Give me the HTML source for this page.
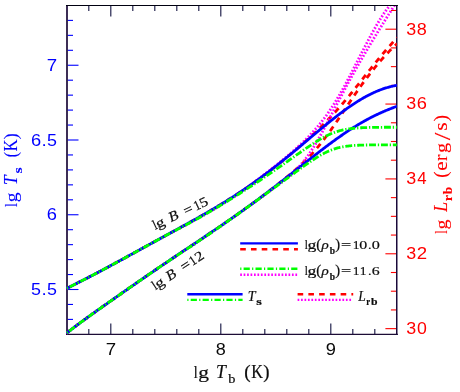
<!DOCTYPE html>
<html><head><meta charset="utf-8"><title>chart</title>
<style>html,body{margin:0;padding:0;background:#fff;}body{width:460px;height:392px;overflow:hidden;position:relative;font-family:"Liberation Sans",sans-serif;}</style></head>
<body>
<svg width="460" height="392" viewBox="0 0 460 392" style="position:absolute;left:0;top:0;will-change:transform">
<defs><clipPath id="c"><rect x="66.10" y="6.00" width="330.75" height="328.85"/></clipPath></defs>
<g fill="none" stroke-width="2.4">
<path d="M240.2,243.35 H297.9" stroke="#0000ff"/>
<path d="M240.2,249.2 H297.9" stroke="#ff0000" stroke-dasharray="5.6 5.16"/>
<path d="M240.2,268.8 H297.9" stroke="#00ff00" stroke-dasharray="1.2 2.2 6.2 2.3" />
<path d="M240.2,274.7 H297.9" stroke="#ff00ff" stroke-dasharray="1.7 1.75"/>
<path d="M187.3,294.2 H242.6" stroke="#0000ff"/>
<path d="M187.3,299.9 H242.6" stroke="#00ff00" stroke-dasharray="1.2 2.2 6.2 2.3"/>
<path d="M297.6,294.2 H353.2" stroke="#ff0000" stroke-dasharray="5.6 5.16"/>
<path d="M297.6,299.9 H351.5" stroke="#ff00ff" stroke-dasharray="1.7 1.75"/>
</g>
<g stroke="#1c1c48" stroke-width="1.15" fill="none">
<path d="M88.80,334.45 v-5.5"/><path d="M88.80,5.5 v5.5"/>
<path d="M110.80,334.45 v-11"/><path d="M110.80,5.5 v11"/>
<path d="M132.80,334.45 v-5.5"/><path d="M132.80,5.5 v5.5"/>
<path d="M154.80,334.45 v-5.5"/><path d="M154.80,5.5 v5.5"/>
<path d="M176.80,334.45 v-5.5"/><path d="M176.80,5.5 v5.5"/>
<path d="M198.80,334.45 v-5.5"/><path d="M198.80,5.5 v5.5"/>
<path d="M220.80,334.45 v-11"/><path d="M220.80,5.5 v11"/>
<path d="M242.80,334.45 v-5.5"/><path d="M242.80,5.5 v5.5"/>
<path d="M264.80,334.45 v-5.5"/><path d="M264.80,5.5 v5.5"/>
<path d="M286.80,334.45 v-5.5"/><path d="M286.80,5.5 v5.5"/>
<path d="M308.80,334.45 v-5.5"/><path d="M308.80,5.5 v5.5"/>
<path d="M330.80,334.45 v-11"/><path d="M330.80,5.5 v11"/>
<path d="M352.80,334.45 v-5.5"/><path d="M352.80,5.5 v5.5"/>
<path d="M374.80,334.45 v-5.5"/><path d="M374.80,5.5 v5.5"/>
</g>
<g stroke="#0000ff" stroke-width="1.1" fill="none">
<path d="M67.0,319.40 h6"/>
<path d="M67.0,304.45 h6"/>
<path d="M67.0,289.50 h11.5"/>
<path d="M67.0,274.55 h6"/>
<path d="M67.0,259.60 h6"/>
<path d="M67.0,244.65 h6"/>
<path d="M67.0,229.70 h6"/>
<path d="M67.0,214.75 h11.5"/>
<path d="M67.0,199.80 h6"/>
<path d="M67.0,184.85 h6"/>
<path d="M67.0,169.90 h6"/>
<path d="M67.0,154.95 h6"/>
<path d="M67.0,140.00 h11.5"/>
<path d="M67.0,125.05 h6"/>
<path d="M67.0,110.10 h6"/>
<path d="M67.0,95.15 h6"/>
<path d="M67.0,80.20 h6"/>
<path d="M67.0,65.25 h11.5"/>
<path d="M67.0,50.30 h6"/>
<path d="M67.0,35.35 h6"/>
<path d="M67.0,20.40 h6"/>
</g>
<g stroke="#ff0000" stroke-width="1.1" fill="none">
<path d="M396.9,328.64 h-11.5"/>
<path d="M396.9,309.93 h-6"/>
<path d="M396.9,291.21 h-6"/>
<path d="M396.9,272.50 h-6"/>
<path d="M396.9,253.78 h-11.5"/>
<path d="M396.9,235.06 h-6"/>
<path d="M396.9,216.35 h-6"/>
<path d="M396.9,197.63 h-6"/>
<path d="M396.9,178.92 h-11.5"/>
<path d="M396.9,160.20 h-6"/>
<path d="M396.9,141.49 h-6"/>
<path d="M396.9,122.78 h-6"/>
<path d="M396.9,104.06 h-11.5"/>
<path d="M396.9,85.34 h-6"/>
<path d="M396.9,66.63 h-6"/>
<path d="M396.9,47.91 h-6"/>
<path d="M396.9,29.20 h-11.5"/>
<path d="M396.9,10.48 h-6"/>
</g>
<path d="M67.0,5.0 V335.05" stroke="#33234d" stroke-width="1.9" fill="none"/>
<path d="M396.75,5.0 V335.05" stroke="#1a0a3a" stroke-width="1.5" fill="none"/>
<path d="M66.0,5.5 H397.9" stroke="#000010" stroke-width="1.1" fill="none"/>
<path d="M66.0,334.45 H397.9" stroke="#1c0c36" stroke-width="1.25" fill="none"/>
<g clip-path="url(#c)" fill="none" stroke-width="2.80">
<path d="M66.40,288.52 L67.15,288.14 L67.91,287.77 L68.66,287.39 L69.41,287.02 L70.17,286.64 L70.92,286.27 L71.67,285.89 L72.43,285.52 L73.18,285.14 L73.94,284.77 L74.69,284.39 L75.44,284.01 L76.20,283.63 L76.95,283.25 L77.70,282.87 L78.46,282.49 L79.21,282.11 L79.96,281.73 L80.72,281.35 L81.47,280.97 L82.22,280.59 L82.98,280.20 L83.73,279.82 L84.48,279.43 L85.24,279.05 L85.99,278.66 L86.75,278.27 L87.50,277.89 L88.25,277.50 L89.01,277.11 L89.76,276.72 L90.51,276.33 L91.27,275.94 L92.02,275.54 L92.77,275.15 L93.53,274.76 L94.28,274.36 L95.03,273.97 L95.79,273.57 L96.54,273.18 L97.29,272.78 L98.05,272.38 L98.80,271.99 L99.56,271.59 L100.31,271.19 L101.06,270.79 L101.82,270.39 L102.57,269.99 L103.32,269.59 L104.08,269.18 L104.83,268.78 L105.58,268.38 L106.34,267.97 L107.09,267.57 L107.84,267.16 L108.60,266.76 L109.35,266.35 L110.10,265.95 L110.86,265.54 L111.61,265.13 L112.37,264.73 L113.12,264.32 L113.87,263.91 L114.63,263.50 L115.38,263.09 L116.13,262.68 L116.89,262.27 L117.64,261.86 L118.39,261.45 L119.15,261.04 L119.90,260.63 L120.65,260.22 L121.41,259.81 L122.16,259.40 L122.91,258.99 L123.67,258.58 L124.42,258.16 L125.18,257.75 L125.93,257.34 L126.68,256.93 L127.44,256.51 L128.19,256.10 L128.94,255.69 L129.70,255.27 L130.45,254.86 L131.20,254.45 L131.96,254.03 L132.71,253.62 L133.46,253.21 L134.22,252.79 L134.97,252.38 L135.72,251.97 L136.48,251.55 L137.23,251.14 L137.99,250.73 L138.74,250.31 L139.49,249.90 L140.25,249.49 L141.00,249.07 L141.75,248.66 L142.51,248.25 L143.26,247.83 L144.01,247.42 L144.77,247.01 L145.52,246.60 L146.27,246.18 L147.03,245.77 L147.78,245.36 L148.53,244.94 L149.29,244.53 L150.04,244.12 L150.80,243.71 L151.55,243.29 L152.30,242.88 L153.06,242.47 L153.81,242.06 L154.56,241.65 L155.32,241.23 L156.07,240.82 L156.82,240.41 L157.58,240.00 L158.33,239.59 L159.08,239.18 L159.84,238.76 L160.59,238.35 L161.34,237.94 L162.10,237.53 L162.85,237.12 L163.61,236.71 L164.36,236.30 L165.11,235.89 L165.87,235.47 L166.62,235.06 L167.37,234.65 L168.13,234.24 L168.88,233.83 L169.63,233.42 L170.39,233.01 L171.14,232.59 L171.89,232.18 L172.65,231.77 L173.40,231.36 L174.15,230.95 L174.91,230.54 L175.66,230.12 L176.42,229.71 L177.17,229.30 L177.92,228.89 L178.68,228.47 L179.43,228.06 L180.18,227.65 L180.94,227.23 L181.69,226.82 L182.44,226.40 L183.20,225.99 L183.95,225.57 L184.70,225.16 L185.46,224.74 L186.21,224.33 L186.96,223.91 L187.72,223.49 L188.47,223.08 L189.23,222.66 L189.98,222.24 L190.73,221.82 L191.49,221.40 L192.24,220.98 L192.99,220.56 L193.75,220.14 L194.50,219.72 L195.25,219.30 L196.01,218.88 L196.76,218.45 L197.51,218.03 L198.27,217.60 L199.02,217.18 L199.77,216.75 L200.53,216.32 L201.28,215.89 L202.04,215.47 L202.79,215.04 L203.54,214.61 L204.30,214.17 L205.05,213.74 L205.80,213.31 L206.56,212.87 L207.31,212.44 L208.06,212.00 L208.82,211.56 L209.57,211.12 L210.32,210.68 L211.08,210.24 L211.83,209.80 L212.58,209.36 L213.34,208.91 L214.09,208.47 L214.85,208.02 L215.60,207.57 L216.35,207.12 L217.11,206.67 L217.86,206.22 L218.61,205.77 L219.37,205.31 L220.12,204.86 L220.87,204.40 L221.63,203.94 L222.38,203.48 L223.13,203.02 L223.89,202.56 L224.64,202.09 L225.39,201.62 L226.15,201.16 L226.90,200.69 L227.66,200.22 L228.41,199.74 L229.16,199.27 L229.92,198.79 L230.67,198.31 L231.42,197.83 L232.18,197.35 L232.93,196.87 L233.68,196.39 L234.44,195.90 L235.19,195.41 L235.94,194.92 L236.70,194.43 L237.45,193.93 L238.21,193.44 L238.96,192.94 L239.71,192.44 L240.47,191.94 L241.22,191.44 L241.97,190.93 L242.73,190.43 L243.48,189.92 L244.23,189.41 L244.99,188.89 L245.74,188.38 L246.49,187.86 L247.25,187.34 L248.00,186.82 L248.75,186.30 L249.51,185.78 L250.26,185.25 L251.02,184.72 L251.77,184.19 L252.52,183.66 L253.28,183.12 L254.03,182.58 L254.78,182.05 L255.54,181.51 L256.29,180.96 L257.04,180.42 L257.80,179.87 L258.55,179.32 L259.30,178.77 L260.06,178.22 L260.81,177.66 L261.56,177.10 L262.32,176.55 L263.07,175.98 L263.83,175.42 L264.58,174.86 L265.33,174.29 L266.09,173.72 L266.84,173.15 L267.59,172.57 L268.35,172.00 L269.10,171.42 L269.85,170.84 L270.61,170.26 L271.36,169.68 L272.11,169.09 L272.87,168.51 L273.62,167.92 L274.37,167.33 L275.13,166.73 L275.88,166.14 L276.64,165.54 L277.39,164.94 L278.14,164.34 L278.90,163.74 L279.65,163.13 L280.40,162.53 L281.16,161.92 L281.91,161.31 L282.66,160.70 L283.42,160.08 L284.17,159.47 L284.92,158.85 L285.68,158.23 L286.43,157.61 L287.18,156.99 L287.94,156.36 L288.69,155.74 L289.45,155.11 L290.20,154.48 L290.95,153.85 L291.71,153.21 L292.46,152.58 L293.21,151.94 L293.97,151.30 L294.72,150.66 L295.47,150.01 L296.23,149.37 L296.98,148.72 L297.73,148.07 L298.49,147.42 L299.24,146.77 L299.99,146.11 L300.75,145.45 L301.50,144.79 L302.26,144.13 L303.01,143.47 L303.76,142.80 L304.52,142.13 L305.27,141.46 L306.02,140.79 L306.78,140.11 L307.53,139.43 L308.28,138.75 L309.04,138.07 L309.79,137.38 L310.54,136.69 L311.30,136.00 L312.05,135.31 L312.80,134.61 L313.56,133.91 L314.31,133.20 L315.07,132.50 L315.82,131.78 L316.57,131.07 L317.33,130.35 L318.08,129.63 L318.83,128.90 L319.59,128.18 L320.34,127.44 L321.09,126.71 L321.85,125.96 L322.60,125.22 L323.35,124.47 L324.11,123.71 L324.86,122.96 L325.61,122.19 L326.37,121.42 L327.12,120.65 L327.88,119.87 L328.63,119.09 L329.38,118.30 L330.14,117.51 L330.89,116.71 L331.64,115.91 L332.40,115.10 L333.15,114.29 L333.90,113.47 L334.66,112.65 L335.41,111.82 L336.16,110.98 L336.92,110.14 L337.67,109.30 L338.42,108.45 L339.18,107.59 L339.93,106.73 L340.69,105.86 L341.44,104.99 L342.19,104.12 L342.95,103.23 L343.70,102.35 L344.45,101.46 L345.21,100.56 L345.96,99.66 L346.71,98.76 L347.47,97.85 L348.22,96.94 L348.97,96.02 L349.73,95.10 L350.48,94.17 L351.23,93.25 L351.99,92.31 L352.74,91.38 L353.50,90.44 L354.25,89.50 L355.00,88.56 L355.76,87.61 L356.51,86.67 L357.26,85.72 L358.02,84.77 L358.77,83.82 L359.52,82.86 L360.28,81.91 L361.03,80.95 L361.78,80.00 L362.54,79.04 L363.29,78.08 L364.04,77.13 L364.80,76.17 L365.55,75.22 L366.31,74.26 L367.06,73.31 L367.81,72.35 L368.57,71.40 L369.32,70.45 L370.07,69.50 L370.83,68.55 L371.58,67.61 L372.33,66.66 L373.09,65.72 L373.84,64.78 L374.59,63.85 L375.35,62.91 L376.10,61.98 L376.85,61.06 L377.61,60.13 L378.36,59.21 L379.12,58.30 L379.87,57.39 L380.62,56.48 L381.38,55.57 L382.13,54.67 L382.88,53.77 L383.64,52.88 L384.39,51.99 L385.14,51.11 L385.90,50.23 L386.65,49.36 L387.40,48.49 L388.16,47.63 L388.91,46.77 L389.66,45.92 L390.42,45.07 L391.17,44.23 L391.93,43.39 L392.68,42.56 L393.43,41.73 L394.19,40.91 L394.94,40.10 L395.69,39.29 L396.45,38.49 L397.20,37.69" stroke="#ff0000" stroke-dasharray="5.6 5.16"/>
<path d="M66.40,333.34 L67.15,332.74 L67.91,332.14 L68.66,331.55 L69.41,330.96 L70.17,330.37 L70.92,329.79 L71.67,329.21 L72.43,328.63 L73.18,328.05 L73.94,327.48 L74.69,326.91 L75.44,326.34 L76.20,325.77 L76.95,325.21 L77.70,324.64 L78.46,324.08 L79.21,323.52 L79.96,322.96 L80.72,322.41 L81.47,321.85 L82.22,321.30 L82.98,320.75 L83.73,320.20 L84.48,319.65 L85.24,319.10 L85.99,318.55 L86.75,318.00 L87.50,317.46 L88.25,316.91 L89.01,316.37 L89.76,315.83 L90.51,315.29 L91.27,314.75 L92.02,314.21 L92.77,313.67 L93.53,313.13 L94.28,312.59 L95.03,312.06 L95.79,311.52 L96.54,310.98 L97.29,310.45 L98.05,309.91 L98.80,309.38 L99.56,308.84 L100.31,308.31 L101.06,307.78 L101.82,307.24 L102.57,306.71 L103.32,306.18 L104.08,305.65 L104.83,305.12 L105.58,304.58 L106.34,304.05 L107.09,303.52 L107.84,302.99 L108.60,302.46 L109.35,301.93 L110.10,301.40 L110.86,300.87 L111.61,300.34 L112.37,299.82 L113.12,299.29 L113.87,298.76 L114.63,298.23 L115.38,297.70 L116.13,297.17 L116.89,296.65 L117.64,296.12 L118.39,295.59 L119.15,295.06 L119.90,294.54 L120.65,294.01 L121.41,293.48 L122.16,292.95 L122.91,292.43 L123.67,291.90 L124.42,291.38 L125.18,290.85 L125.93,290.32 L126.68,289.80 L127.44,289.27 L128.19,288.75 L128.94,288.22 L129.70,287.70 L130.45,287.17 L131.20,286.65 L131.96,286.13 L132.71,285.60 L133.46,285.08 L134.22,284.55 L134.97,284.03 L135.72,283.51 L136.48,282.99 L137.23,282.46 L137.99,281.94 L138.74,281.42 L139.49,280.90 L140.25,280.38 L141.00,279.86 L141.75,279.33 L142.51,278.81 L143.26,278.29 L144.01,277.77 L144.77,277.25 L145.52,276.73 L146.27,276.22 L147.03,275.70 L147.78,275.18 L148.53,274.66 L149.29,274.14 L150.04,273.62 L150.80,273.11 L151.55,272.59 L152.30,272.07 L153.06,271.56 L153.81,271.04 L154.56,270.53 L155.32,270.01 L156.07,269.50 L156.82,268.98 L157.58,268.47 L158.33,267.95 L159.08,267.44 L159.84,266.93 L160.59,266.41 L161.34,265.90 L162.10,265.39 L162.85,264.88 L163.61,264.37 L164.36,263.85 L165.11,263.34 L165.87,262.83 L166.62,262.32 L167.37,261.81 L168.13,261.30 L168.88,260.79 L169.63,260.28 L170.39,259.78 L171.14,259.27 L171.89,258.76 L172.65,258.25 L173.40,257.74 L174.15,257.24 L174.91,256.73 L175.66,256.22 L176.42,255.71 L177.17,255.21 L177.92,254.70 L178.68,254.20 L179.43,253.69 L180.18,253.18 L180.94,252.68 L181.69,252.17 L182.44,251.67 L183.20,251.16 L183.95,250.66 L184.70,250.15 L185.46,249.65 L186.21,249.14 L186.96,248.64 L187.72,248.14 L188.47,247.63 L189.23,247.13 L189.98,246.62 L190.73,246.12 L191.49,245.61 L192.24,245.11 L192.99,244.61 L193.75,244.10 L194.50,243.60 L195.25,243.09 L196.01,242.59 L196.76,242.09 L197.51,241.58 L198.27,241.08 L199.02,240.57 L199.77,240.07 L200.53,239.56 L201.28,239.06 L202.04,238.55 L202.79,238.05 L203.54,237.54 L204.30,237.04 L205.05,236.53 L205.80,236.02 L206.56,235.52 L207.31,235.01 L208.06,234.50 L208.82,233.99 L209.57,233.49 L210.32,232.98 L211.08,232.47 L211.83,231.96 L212.58,231.45 L213.34,230.94 L214.09,230.43 L214.85,229.92 L215.60,229.41 L216.35,228.90 L217.11,228.39 L217.86,227.87 L218.61,227.36 L219.37,226.84 L220.12,226.33 L220.87,225.82 L221.63,225.30 L222.38,224.78 L223.13,224.27 L223.89,223.75 L224.64,223.23 L225.39,222.71 L226.15,222.19 L226.90,221.67 L227.66,221.15 L228.41,220.63 L229.16,220.11 L229.92,219.58 L230.67,219.06 L231.42,218.53 L232.18,218.01 L232.93,217.48 L233.68,216.95 L234.44,216.43 L235.19,215.90 L235.94,215.37 L236.70,214.84 L237.45,214.30 L238.21,213.77 L238.96,213.24 L239.71,212.70 L240.47,212.17 L241.22,211.63 L241.97,211.09 L242.73,210.55 L243.48,210.02 L244.23,209.47 L244.99,208.93 L245.74,208.39 L246.49,207.85 L247.25,207.30 L248.00,206.76 L248.75,206.21 L249.51,205.66 L250.26,205.11 L251.02,204.56 L251.77,204.01 L252.52,203.46 L253.28,202.91 L254.03,202.36 L254.78,201.80 L255.54,201.24 L256.29,200.69 L257.04,200.13 L257.80,199.57 L258.55,199.01 L259.30,198.45 L260.06,197.88 L260.81,197.32 L261.56,196.75 L262.32,196.19 L263.07,195.62 L263.83,195.05 L264.58,194.48 L265.33,193.91 L266.09,193.34 L266.84,192.76 L267.59,192.19 L268.35,191.61 L269.10,191.04 L269.85,190.46 L270.61,189.88 L271.36,189.30 L272.11,188.71 L272.87,188.13 L273.62,187.54 L274.37,186.96 L275.13,186.37 L275.88,185.78 L276.64,185.19 L277.39,184.60 L278.14,184.00 L278.90,183.41 L279.65,182.81 L280.40,182.21 L281.16,181.61 L281.91,181.00 L282.66,180.40 L283.42,179.79 L284.17,179.18 L284.92,178.57 L285.68,177.96 L286.43,177.34 L287.18,176.72 L287.94,176.10 L288.69,175.48 L289.45,174.85 L290.20,174.22 L290.95,173.58 L291.71,172.95 L292.46,172.31 L293.21,171.66 L293.97,171.01 L294.72,170.36 L295.47,169.71 L296.23,169.05 L296.98,168.38 L297.73,167.71 L298.49,167.03 L299.24,166.35 L299.99,165.67 L300.75,164.97 L301.50,164.27 L302.26,163.57 L303.01,162.86 L303.76,162.14 L304.52,161.41 L305.27,160.68 L306.02,159.93 L306.78,159.18 L307.53,158.43 L308.28,157.66 L309.04,156.88 L309.79,156.10 L310.54,155.30 L311.30,154.50 L312.05,153.69 L312.80,152.86 L313.56,152.03 L314.31,151.18 L315.07,150.33 L315.82,149.46 L316.57,148.59 L317.33,147.70 L318.08,146.80 L318.83,145.89 L319.59,144.97 L320.34,144.04 L321.09,143.10 L321.85,142.15 L322.60,141.19 L323.35,140.21 L324.11,139.23 L324.86,138.24 L325.61,137.23 L326.37,136.22 L327.12,135.20 L327.88,134.17 L328.63,133.13 L329.38,132.08 L330.14,131.02 L330.89,129.96 L331.64,128.89 L332.40,127.81 L333.15,126.73 L333.90,125.64 L334.66,124.55 L335.41,123.44 L336.16,122.34 L336.92,121.23 L337.67,120.12 L338.42,119.00 L339.18,117.88 L339.93,116.76 L340.69,115.64 L341.44,114.51 L342.19,113.38 L342.95,112.26 L343.70,111.13 L344.45,110.00 L345.21,108.87 L345.96,107.74 L346.71,106.62 L347.47,105.49 L348.22,104.37 L348.97,103.25 L349.73,102.13 L350.48,101.01 L351.23,99.89 L351.99,98.78 L352.74,97.68 L353.50,96.57 L354.25,95.47 L355.00,94.37 L355.76,93.28 L356.51,92.20 L357.26,91.11 L358.02,90.04 L358.77,88.96 L359.52,87.90 L360.28,86.83 L361.03,85.78 L361.78,84.73 L362.54,83.68 L363.29,82.64 L364.04,81.61 L364.80,80.59 L365.55,79.57 L366.31,78.55 L367.06,77.55 L367.81,76.55 L368.57,75.56 L369.32,74.57 L370.07,73.59 L370.83,72.62 L371.58,71.66 L372.33,70.70 L373.09,69.75 L373.84,68.81 L374.59,67.87 L375.35,66.95 L376.10,66.03 L376.85,65.12 L377.61,64.21 L378.36,63.32 L379.12,62.43 L379.87,61.55 L380.62,60.68 L381.38,59.82 L382.13,58.96 L382.88,58.11 L383.64,57.27 L384.39,56.44 L385.14,55.62 L385.90,54.80 L386.65,54.00 L387.40,53.20 L388.16,52.41 L388.91,51.63 L389.66,50.85 L390.42,50.09 L391.17,49.33 L391.93,48.58 L392.68,47.84 L393.43,47.11 L394.19,46.39 L394.94,45.68 L395.69,44.97 L396.45,44.28 L397.20,43.59" stroke="#ff0000" stroke-dasharray="5.6 5.16"/>
<path d="M66.40,288.52 L67.15,288.14 L67.91,287.77 L68.66,287.39 L69.41,287.02 L70.17,286.64 L70.92,286.27 L71.67,285.89 L72.43,285.52 L73.18,285.14 L73.94,284.77 L74.69,284.39 L75.44,284.01 L76.20,283.63 L76.95,283.25 L77.70,282.87 L78.46,282.49 L79.21,282.11 L79.96,281.73 L80.72,281.35 L81.47,280.97 L82.22,280.59 L82.98,280.20 L83.73,279.82 L84.48,279.43 L85.24,279.05 L85.99,278.66 L86.75,278.27 L87.50,277.89 L88.25,277.50 L89.01,277.11 L89.76,276.72 L90.51,276.33 L91.27,275.94 L92.02,275.54 L92.77,275.15 L93.53,274.76 L94.28,274.36 L95.03,273.97 L95.79,273.57 L96.54,273.18 L97.29,272.78 L98.05,272.38 L98.80,271.99 L99.56,271.59 L100.31,271.19 L101.06,270.79 L101.82,270.39 L102.57,269.99 L103.32,269.59 L104.08,269.18 L104.83,268.78 L105.58,268.38 L106.34,267.97 L107.09,267.57 L107.84,267.16 L108.60,266.76 L109.35,266.35 L110.10,265.95 L110.86,265.54 L111.61,265.13 L112.37,264.73 L113.12,264.32 L113.87,263.91 L114.63,263.50 L115.38,263.09 L116.13,262.68 L116.89,262.27 L117.64,261.86 L118.39,261.45 L119.15,261.04 L119.90,260.63 L120.65,260.22 L121.41,259.81 L122.16,259.40 L122.91,258.99 L123.67,258.58 L124.42,258.16 L125.18,257.75 L125.93,257.34 L126.68,256.93 L127.44,256.51 L128.19,256.10 L128.94,255.69 L129.70,255.27 L130.45,254.86 L131.20,254.45 L131.96,254.03 L132.71,253.62 L133.46,253.21 L134.22,252.79 L134.97,252.38 L135.72,251.97 L136.48,251.55 L137.23,251.14 L137.99,250.73 L138.74,250.31 L139.49,249.90 L140.25,249.49 L141.00,249.07 L141.75,248.66 L142.51,248.25 L143.26,247.83 L144.01,247.42 L144.77,247.01 L145.52,246.60 L146.27,246.18 L147.03,245.77 L147.78,245.36 L148.53,244.94 L149.29,244.53 L150.04,244.12 L150.80,243.71 L151.55,243.29 L152.30,242.88 L153.06,242.47 L153.81,242.05 L154.56,241.64 L155.32,241.23 L156.07,240.81 L156.82,240.40 L157.58,239.99 L158.33,239.58 L159.08,239.17 L159.84,238.76 L160.59,238.35 L161.34,237.94 L162.10,237.53 L162.85,237.12 L163.61,236.71 L164.36,236.31 L165.11,235.90 L165.87,235.50 L166.62,235.10 L167.37,234.69 L168.13,234.29 L168.88,233.89 L169.63,233.49 L170.39,233.09 L171.14,232.69 L171.89,232.29 L172.65,231.89 L173.40,231.49 L174.15,231.09 L174.91,230.70 L175.66,230.30 L176.42,229.90 L177.17,229.51 L177.92,229.11 L178.68,228.71 L179.43,228.32 L180.18,227.92 L180.94,227.52 L181.69,227.13 L182.44,226.73 L183.20,226.33 L183.95,225.94 L184.70,225.54 L185.46,225.14 L186.21,224.74 L186.96,224.34 L187.72,223.94 L188.47,223.54 L189.23,223.14 L189.98,222.73 L190.73,222.33 L191.49,221.92 L192.24,221.52 L192.99,221.11 L193.75,220.70 L194.50,220.29 L195.25,219.88 L196.01,219.47 L196.76,219.06 L197.51,218.65 L198.27,218.23 L199.02,217.81 L199.77,217.40 L200.53,216.98 L201.28,216.56 L202.04,216.13 L202.79,215.71 L203.54,215.29 L204.30,214.86 L205.05,214.43 L205.80,214.00 L206.56,213.57 L207.31,213.14 L208.06,212.70 L208.82,212.26 L209.57,211.82 L210.32,211.38 L211.08,210.94 L211.83,210.50 L212.58,210.06 L213.34,209.61 L214.09,209.16 L214.85,208.72 L215.60,208.27 L216.35,207.82 L217.11,207.36 L217.86,206.91 L218.61,206.45 L219.37,206.00 L220.12,205.54 L220.87,205.08 L221.63,204.62 L222.38,204.15 L223.13,203.68 L223.89,203.22 L224.64,202.75 L225.39,202.27 L226.15,201.80 L226.90,201.32 L227.66,200.84 L228.41,200.36 L229.16,199.87 L229.92,199.38 L230.67,198.89 L231.42,198.40 L232.18,197.91 L232.93,197.41 L233.68,196.91 L234.44,196.40 L235.19,195.90 L235.94,195.39 L236.70,194.87 L237.45,194.36 L238.21,193.84 L238.96,193.32 L239.71,192.79 L240.47,192.27 L241.22,191.74 L241.97,191.21 L242.73,190.67 L243.48,190.13 L244.23,189.59 L244.99,189.05 L245.74,188.51 L246.49,187.96 L247.25,187.41 L248.00,186.86 L248.75,186.31 L249.51,185.75 L250.26,185.20 L251.02,184.64 L251.77,184.08 L252.52,183.51 L253.28,182.95 L254.03,182.38 L254.78,181.82 L255.54,181.25 L256.29,180.68 L257.04,180.11 L257.80,179.53 L258.55,178.96 L259.30,178.39 L260.06,177.81 L260.81,177.23 L261.56,176.66 L262.32,176.08 L263.07,175.50 L263.83,174.92 L264.58,174.33 L265.33,173.75 L266.09,173.17 L266.84,172.58 L267.59,172.00 L268.35,171.41 L269.10,170.82 L269.85,170.23 L270.61,169.64 L271.36,169.05 L272.11,168.46 L272.87,167.86 L273.62,167.27 L274.37,166.67 L275.13,166.07 L275.88,165.47 L276.64,164.87 L277.39,164.27 L278.14,163.67 L278.90,163.06 L279.65,162.45 L280.40,161.84 L281.16,161.23 L281.91,160.62 L282.66,160.00 L283.42,159.38 L284.17,158.76 L284.92,158.14 L285.68,157.51 L286.43,156.89 L287.18,156.26 L287.94,155.62 L288.69,154.99 L289.45,154.35 L290.20,153.70 L290.95,153.06 L291.71,152.41 L292.46,151.75 L293.21,151.09 L293.97,150.43 L294.72,149.77 L295.47,149.10 L296.23,148.42 L296.98,147.75 L297.73,147.06 L298.49,146.37 L299.24,145.68 L299.99,144.98 L300.75,144.28 L301.50,143.57 L302.26,142.85 L303.01,142.13 L303.76,141.41 L304.52,140.67 L305.27,139.93 L306.02,139.19 L306.78,138.43 L307.53,137.67 L308.28,136.90 L309.04,136.13 L309.79,135.34 L310.54,134.55 L311.30,133.75 L312.05,132.94 L312.80,132.12 L313.56,131.29 L314.31,130.45 L315.07,129.60 L315.82,128.74 L316.57,127.87 L317.33,126.99 L318.08,126.10 L318.83,125.20 L319.59,124.28 L320.34,123.35 L321.09,122.41 L321.85,121.46 L322.60,120.49 L323.35,119.51 L324.11,118.52 L324.86,117.51 L325.61,116.49 L326.37,115.46 L327.12,114.40 L327.88,113.34 L328.63,112.26 L329.38,111.16 L330.14,110.05 L330.89,108.92 L331.64,107.78 L332.40,106.62 L333.15,105.45 L333.90,104.26 L334.66,103.05 L335.41,101.83 L336.16,100.60 L336.92,99.35 L337.67,98.08 L338.42,96.80 L339.18,95.51 L339.93,94.20 L340.69,92.88 L341.44,91.55 L342.19,90.20 L342.95,88.85 L343.70,87.48 L344.45,86.10 L345.21,84.71 L345.96,83.31 L346.71,81.90 L347.47,80.49 L348.22,79.06 L348.97,77.63 L349.73,76.19 L350.48,74.74 L351.23,73.29 L351.99,71.83 L352.74,70.37 L353.50,68.91 L354.25,67.44 L355.00,65.97 L355.76,64.50 L356.51,63.02 L357.26,61.55 L358.02,60.07 L358.77,58.60 L359.52,57.12 L360.28,55.65 L361.03,54.18 L361.78,52.71 L362.54,51.25 L363.29,49.78 L364.04,48.33 L364.80,46.87 L365.55,45.43 L366.31,43.99 L367.06,42.55 L367.81,41.12 L368.57,39.71 L369.32,38.29 L370.07,36.89 L370.83,35.50 L371.58,34.12 L372.33,32.75 L373.09,31.39 L373.84,30.04 L374.59,28.70 L375.35,27.38 L376.10,26.07 L376.85,24.78 L377.61,23.50 L378.36,22.23 L379.12,20.99 L379.87,19.76 L380.62,18.54 L381.38,17.35 L382.13,16.17 L382.88,15.02 L383.64,13.88 L384.39,12.77 L385.14,11.68 L385.90,10.61 L386.65,9.56 L387.40,8.54 L388.16,7.54 L388.91,6.57 L389.66,5.62 L390.42,4.70 L391.17,3.81 L391.93,2.95 L392.68,2.12 L393.43,1.31 L394.19,0.54 L394.94,-0.20 L395.69,-0.91 L396.45,-1.59 L397.20,-2.23" stroke="#ff00ff" stroke-dasharray="1.7 1.75"/>
<path d="M66.40,333.34 L67.15,332.74 L67.91,332.14 L68.66,331.55 L69.41,330.96 L70.17,330.37 L70.92,329.79 L71.67,329.21 L72.43,328.63 L73.18,328.05 L73.94,327.48 L74.69,326.91 L75.44,326.34 L76.20,325.77 L76.95,325.21 L77.70,324.64 L78.46,324.08 L79.21,323.52 L79.96,322.96 L80.72,322.41 L81.47,321.85 L82.22,321.30 L82.98,320.75 L83.73,320.20 L84.48,319.65 L85.24,319.10 L85.99,318.55 L86.75,318.00 L87.50,317.46 L88.25,316.91 L89.01,316.37 L89.76,315.83 L90.51,315.29 L91.27,314.75 L92.02,314.21 L92.77,313.67 L93.53,313.13 L94.28,312.59 L95.03,312.06 L95.79,311.52 L96.54,310.98 L97.29,310.45 L98.05,309.91 L98.80,309.38 L99.56,308.84 L100.31,308.31 L101.06,307.78 L101.82,307.24 L102.57,306.71 L103.32,306.18 L104.08,305.65 L104.83,305.12 L105.58,304.58 L106.34,304.05 L107.09,303.52 L107.84,302.99 L108.60,302.46 L109.35,301.93 L110.10,301.40 L110.86,300.87 L111.61,300.34 L112.37,299.82 L113.12,299.29 L113.87,298.76 L114.63,298.23 L115.38,297.70 L116.13,297.17 L116.89,296.65 L117.64,296.12 L118.39,295.59 L119.15,295.06 L119.90,294.54 L120.65,294.01 L121.41,293.48 L122.16,292.95 L122.91,292.43 L123.67,291.90 L124.42,291.38 L125.18,290.85 L125.93,290.32 L126.68,289.80 L127.44,289.27 L128.19,288.75 L128.94,288.22 L129.70,287.70 L130.45,287.17 L131.20,286.65 L131.96,286.13 L132.71,285.60 L133.46,285.08 L134.22,284.55 L134.97,284.03 L135.72,283.51 L136.48,282.99 L137.23,282.46 L137.99,281.94 L138.74,281.42 L139.49,280.90 L140.25,280.38 L141.00,279.86 L141.75,279.33 L142.51,278.81 L143.26,278.29 L144.01,277.77 L144.77,277.25 L145.52,276.73 L146.27,276.22 L147.03,275.70 L147.78,275.18 L148.53,274.66 L149.29,274.14 L150.04,273.62 L150.80,273.11 L151.55,272.59 L152.30,272.07 L153.06,271.56 L153.81,271.04 L154.56,270.52 L155.32,270.01 L156.07,269.49 L156.82,268.98 L157.58,268.47 L158.33,267.95 L159.08,267.44 L159.84,266.93 L160.59,266.42 L161.34,265.91 L162.10,265.40 L162.85,264.89 L163.61,264.39 L164.36,263.88 L165.11,263.38 L165.87,262.87 L166.62,262.37 L167.37,261.86 L168.13,261.36 L168.88,260.86 L169.63,260.36 L170.39,259.86 L171.14,259.36 L171.89,258.86 L172.65,258.36 L173.40,257.87 L174.15,257.37 L174.91,256.87 L175.66,256.38 L176.42,255.88 L177.17,255.39 L177.92,254.89 L178.68,254.40 L179.43,253.90 L180.18,253.41 L180.94,252.91 L181.69,252.42 L182.44,251.92 L183.20,251.43 L183.95,250.93 L184.70,250.44 L185.46,249.94 L186.21,249.45 L186.96,248.95 L187.72,248.46 L188.47,247.96 L189.23,247.46 L189.98,246.97 L190.73,246.47 L191.49,245.97 L192.24,245.47 L192.99,244.97 L193.75,244.47 L194.50,243.97 L195.25,243.47 L196.01,242.97 L196.76,242.46 L197.51,241.96 L198.27,241.46 L199.02,240.95 L199.77,240.44 L200.53,239.94 L201.28,239.43 L202.04,238.92 L202.79,238.41 L203.54,237.90 L204.30,237.39 L205.05,236.88 L205.80,236.36 L206.56,235.85 L207.31,235.34 L208.06,234.82 L208.82,234.31 L209.57,233.79 L210.32,233.27 L211.08,232.75 L211.83,232.24 L212.58,231.72 L213.34,231.20 L214.09,230.68 L214.85,230.16 L215.60,229.64 L216.35,229.12 L217.11,228.60 L217.86,228.07 L218.61,227.55 L219.37,227.03 L220.12,226.51 L220.87,225.98 L221.63,225.46 L222.38,224.93 L223.13,224.41 L223.89,223.88 L224.64,223.36 L225.39,222.83 L226.15,222.31 L226.90,221.78 L227.66,221.25 L228.41,220.72 L229.16,220.20 L229.92,219.67 L230.67,219.14 L231.42,218.61 L232.18,218.08 L232.93,217.55 L233.68,217.02 L234.44,216.49 L235.19,215.95 L235.94,215.42 L236.70,214.89 L237.45,214.36 L238.21,213.82 L238.96,213.29 L239.71,212.75 L240.47,212.22 L241.22,211.68 L241.97,211.15 L242.73,210.61 L243.48,210.08 L244.23,209.54 L244.99,209.00 L245.74,208.46 L246.49,207.93 L247.25,207.39 L248.00,206.85 L248.75,206.31 L249.51,205.77 L250.26,205.23 L251.02,204.69 L251.77,204.15 L252.52,203.61 L253.28,203.06 L254.03,202.52 L254.78,201.98 L255.54,201.43 L256.29,200.89 L257.04,200.35 L257.80,199.80 L258.55,199.25 L259.30,198.71 L260.06,198.16 L260.81,197.62 L261.56,197.07 L262.32,196.52 L263.07,195.97 L263.83,195.42 L264.58,194.87 L265.33,194.32 L266.09,193.77 L266.84,193.22 L267.59,192.66 L268.35,192.11 L269.10,191.56 L269.85,191.00 L270.61,190.44 L271.36,189.89 L272.11,189.33 L272.87,188.77 L273.62,188.21 L274.37,187.64 L275.13,187.08 L275.88,186.51 L276.64,185.94 L277.39,185.37 L278.14,184.80 L278.90,184.23 L279.65,183.65 L280.40,183.07 L281.16,182.49 L281.91,181.90 L282.66,181.31 L283.42,180.71 L284.17,180.11 L284.92,179.51 L285.68,178.90 L286.43,178.29 L287.18,177.67 L287.94,177.04 L288.69,176.40 L289.45,175.76 L290.20,175.11 L290.95,174.45 L291.71,173.78 L292.46,173.10 L293.21,172.41 L293.97,171.71 L294.72,171.00 L295.47,170.27 L296.23,169.53 L296.98,168.77 L297.73,168.00 L298.49,167.21 L299.24,166.41 L299.99,165.59 L300.75,164.75 L301.50,163.89 L302.26,163.01 L303.01,162.11 L303.76,161.19 L304.52,160.25 L305.27,159.28 L306.02,158.30 L306.78,157.29 L307.53,156.26 L308.28,155.21 L309.04,154.13 L309.79,153.03 L310.54,151.91 L311.30,150.77 L312.05,149.61 L312.80,148.43 L313.56,147.23 L314.31,146.00 L315.07,144.76 L315.82,143.50 L316.57,142.22 L317.33,140.93 L318.08,139.62 L318.83,138.30 L319.59,136.96 L320.34,135.61 L321.09,134.24 L321.85,132.87 L322.60,131.48 L323.35,130.09 L324.11,128.68 L324.86,127.27 L325.61,125.85 L326.37,124.43 L327.12,123.00 L327.88,121.56 L328.63,120.13 L329.38,118.68 L330.14,117.24 L330.89,115.79 L331.64,114.34 L332.40,112.89 L333.15,111.44 L333.90,109.99 L334.66,108.54 L335.41,107.10 L336.16,105.65 L336.92,104.20 L337.67,102.76 L338.42,101.32 L339.18,99.88 L339.93,98.44 L340.69,97.01 L341.44,95.58 L342.19,94.15 L342.95,92.73 L343.70,91.31 L344.45,89.90 L345.21,88.49 L345.96,87.09 L346.71,85.68 L347.47,84.29 L348.22,82.90 L348.97,81.51 L349.73,80.13 L350.48,78.75 L351.23,77.38 L351.99,76.01 L352.74,74.65 L353.50,73.29 L354.25,71.94 L355.00,70.60 L355.76,69.25 L356.51,67.92 L357.26,66.58 L358.02,65.26 L358.77,63.93 L359.52,62.62 L360.28,61.30 L361.03,60.00 L361.78,58.69 L362.54,57.39 L363.29,56.10 L364.04,54.81 L364.80,53.52 L365.55,52.24 L366.31,50.96 L367.06,49.69 L367.81,48.42 L368.57,47.15 L369.32,45.89 L370.07,44.64 L370.83,43.38 L371.58,42.13 L372.33,40.88 L373.09,39.64 L373.84,38.40 L374.59,37.16 L375.35,35.93 L376.10,34.70 L376.85,33.47 L377.61,32.24 L378.36,31.02 L379.12,29.80 L379.87,28.58 L380.62,27.37 L381.38,26.16 L382.13,24.95 L382.88,23.74 L383.64,22.53 L384.39,21.33 L385.14,20.12 L385.90,18.92 L386.65,17.72 L387.40,16.53 L388.16,15.33 L388.91,14.13 L389.66,12.94 L390.42,11.75 L391.17,10.55 L391.93,9.36 L392.68,8.17 L393.43,6.98 L394.19,5.79 L394.94,4.60 L395.69,3.41 L396.45,2.22 L397.20,1.04" stroke="#ff00ff" stroke-dasharray="1.7 1.75"/>
<path d="M66.40,288.52 L67.15,288.14 L67.91,287.77 L68.66,287.39 L69.41,287.02 L70.17,286.64 L70.92,286.27 L71.67,285.89 L72.43,285.52 L73.18,285.14 L73.94,284.77 L74.69,284.39 L75.44,284.01 L76.20,283.63 L76.95,283.25 L77.70,282.87 L78.46,282.49 L79.21,282.11 L79.96,281.73 L80.72,281.35 L81.47,280.97 L82.22,280.59 L82.98,280.20 L83.73,279.82 L84.48,279.43 L85.24,279.05 L85.99,278.66 L86.75,278.27 L87.50,277.89 L88.25,277.50 L89.01,277.11 L89.76,276.72 L90.51,276.33 L91.27,275.94 L92.02,275.54 L92.77,275.15 L93.53,274.76 L94.28,274.36 L95.03,273.97 L95.79,273.57 L96.54,273.18 L97.29,272.78 L98.05,272.38 L98.80,271.99 L99.56,271.59 L100.31,271.19 L101.06,270.79 L101.82,270.39 L102.57,269.99 L103.32,269.59 L104.08,269.18 L104.83,268.78 L105.58,268.38 L106.34,267.97 L107.09,267.57 L107.84,267.16 L108.60,266.76 L109.35,266.35 L110.10,265.95 L110.86,265.54 L111.61,265.13 L112.37,264.73 L113.12,264.32 L113.87,263.91 L114.63,263.50 L115.38,263.09 L116.13,262.68 L116.89,262.27 L117.64,261.86 L118.39,261.45 L119.15,261.04 L119.90,260.63 L120.65,260.22 L121.41,259.81 L122.16,259.40 L122.91,258.99 L123.67,258.58 L124.42,258.16 L125.18,257.75 L125.93,257.34 L126.68,256.93 L127.44,256.51 L128.19,256.10 L128.94,255.69 L129.70,255.27 L130.45,254.86 L131.20,254.45 L131.96,254.03 L132.71,253.62 L133.46,253.21 L134.22,252.79 L134.97,252.38 L135.72,251.97 L136.48,251.55 L137.23,251.14 L137.99,250.73 L138.74,250.31 L139.49,249.90 L140.25,249.49 L141.00,249.07 L141.75,248.66 L142.51,248.25 L143.26,247.83 L144.01,247.42 L144.77,247.01 L145.52,246.60 L146.27,246.18 L147.03,245.77 L147.78,245.36 L148.53,244.94 L149.29,244.53 L150.04,244.12 L150.80,243.71 L151.55,243.29 L152.30,242.88 L153.06,242.47 L153.81,242.06 L154.56,241.65 L155.32,241.23 L156.07,240.82 L156.82,240.41 L157.58,240.00 L158.33,239.59 L159.08,239.18 L159.84,238.76 L160.59,238.35 L161.34,237.94 L162.10,237.53 L162.85,237.12 L163.61,236.71 L164.36,236.30 L165.11,235.89 L165.87,235.47 L166.62,235.06 L167.37,234.65 L168.13,234.24 L168.88,233.83 L169.63,233.42 L170.39,233.01 L171.14,232.59 L171.89,232.18 L172.65,231.77 L173.40,231.36 L174.15,230.95 L174.91,230.54 L175.66,230.12 L176.42,229.71 L177.17,229.30 L177.92,228.89 L178.68,228.47 L179.43,228.06 L180.18,227.65 L180.94,227.23 L181.69,226.82 L182.44,226.40 L183.20,225.99 L183.95,225.57 L184.70,225.16 L185.46,224.74 L186.21,224.33 L186.96,223.91 L187.72,223.49 L188.47,223.08 L189.23,222.66 L189.98,222.24 L190.73,221.82 L191.49,221.40 L192.24,220.98 L192.99,220.56 L193.75,220.14 L194.50,219.72 L195.25,219.30 L196.01,218.88 L196.76,218.45 L197.51,218.03 L198.27,217.60 L199.02,217.18 L199.77,216.75 L200.53,216.32 L201.28,215.89 L202.04,215.47 L202.79,215.04 L203.54,214.61 L204.30,214.17 L205.05,213.74 L205.80,213.31 L206.56,212.87 L207.31,212.44 L208.06,212.00 L208.82,211.56 L209.57,211.12 L210.32,210.68 L211.08,210.24 L211.83,209.80 L212.58,209.36 L213.34,208.91 L214.09,208.47 L214.85,208.02 L215.60,207.57 L216.35,207.12 L217.11,206.67 L217.86,206.22 L218.61,205.77 L219.37,205.31 L220.12,204.86 L220.87,204.40 L221.63,203.94 L222.38,203.48 L223.13,203.02 L223.89,202.56 L224.64,202.09 L225.39,201.62 L226.15,201.16 L226.90,200.69 L227.66,200.22 L228.41,199.74 L229.16,199.27 L229.92,198.79 L230.67,198.31 L231.42,197.83 L232.18,197.35 L232.93,196.87 L233.68,196.39 L234.44,195.90 L235.19,195.41 L235.94,194.92 L236.70,194.43 L237.45,193.93 L238.21,193.44 L238.96,192.94 L239.71,192.44 L240.47,191.94 L241.22,191.44 L241.97,190.93 L242.73,190.43 L243.48,189.92 L244.23,189.41 L244.99,188.89 L245.74,188.38 L246.49,187.86 L247.25,187.34 L248.00,186.82 L248.75,186.30 L249.51,185.78 L250.26,185.25 L251.02,184.72 L251.77,184.19 L252.52,183.66 L253.28,183.12 L254.03,182.59 L254.78,182.05 L255.54,181.51 L256.29,180.96 L257.04,180.42 L257.80,179.87 L258.55,179.32 L259.30,178.77 L260.06,178.22 L260.81,177.67 L261.56,177.11 L262.32,176.55 L263.07,175.99 L263.83,175.43 L264.58,174.86 L265.33,174.30 L266.09,173.73 L266.84,173.16 L267.59,172.58 L268.35,172.01 L269.10,171.43 L269.85,170.85 L270.61,170.27 L271.36,169.69 L272.11,169.11 L272.87,168.52 L273.62,167.94 L274.37,167.35 L275.13,166.76 L275.88,166.16 L276.64,165.57 L277.39,164.97 L278.14,164.37 L278.90,163.77 L279.65,163.17 L280.40,162.57 L281.16,161.97 L281.91,161.36 L282.66,160.75 L283.42,160.14 L284.17,159.53 L284.92,158.92 L285.68,158.31 L286.43,157.69 L287.18,157.08 L287.94,156.46 L288.69,155.84 L289.45,155.22 L290.20,154.60 L290.95,153.98 L291.71,153.36 L292.46,152.73 L293.21,152.11 L293.97,151.48 L294.72,150.86 L295.47,150.23 L296.23,149.60 L296.98,148.97 L297.73,148.34 L298.49,147.71 L299.24,147.08 L299.99,146.45 L300.75,145.81 L301.50,145.18 L302.26,144.55 L303.01,143.91 L303.76,143.28 L304.52,142.64 L305.27,142.01 L306.02,141.37 L306.78,140.74 L307.53,140.10 L308.28,139.47 L309.04,138.83 L309.79,138.20 L310.54,137.56 L311.30,136.93 L312.05,136.29 L312.80,135.66 L313.56,135.03 L314.31,134.40 L315.07,133.76 L315.82,133.13 L316.57,132.50 L317.33,131.87 L318.08,131.24 L318.83,130.61 L319.59,129.99 L320.34,129.36 L321.09,128.74 L321.85,128.11 L322.60,127.49 L323.35,126.87 L324.11,126.25 L324.86,125.63 L325.61,125.01 L326.37,124.40 L327.12,123.79 L327.88,123.17 L328.63,122.57 L329.38,121.96 L330.14,121.35 L330.89,120.75 L331.64,120.15 L332.40,119.55 L333.15,118.95 L333.90,118.36 L334.66,117.77 L335.41,117.18 L336.16,116.60 L336.92,116.01 L337.67,115.43 L338.42,114.85 L339.18,114.28 L339.93,113.71 L340.69,113.14 L341.44,112.58 L342.19,112.02 L342.95,111.46 L343.70,110.90 L344.45,110.35 L345.21,109.81 L345.96,109.26 L346.71,108.73 L347.47,108.19 L348.22,107.66 L348.97,107.13 L349.73,106.61 L350.48,106.09 L351.23,105.58 L351.99,105.07 L352.74,104.56 L353.50,104.06 L354.25,103.57 L355.00,103.08 L355.76,102.59 L356.51,102.11 L357.26,101.63 L358.02,101.16 L358.77,100.70 L359.52,100.23 L360.28,99.78 L361.03,99.33 L361.78,98.89 L362.54,98.45 L363.29,98.01 L364.04,97.59 L364.80,97.16 L365.55,96.75 L366.31,96.34 L367.06,95.93 L367.81,95.54 L368.57,95.15 L369.32,94.76 L370.07,94.38 L370.83,94.01 L371.58,93.64 L372.33,93.28 L373.09,92.93 L373.84,92.58 L374.59,92.24 L375.35,91.91 L376.10,91.58 L376.85,91.26 L377.61,90.94 L378.36,90.64 L379.12,90.34 L379.87,90.05 L380.62,89.76 L381.38,89.48 L382.13,89.21 L382.88,88.94 L383.64,88.69 L384.39,88.44 L385.14,88.19 L385.90,87.96 L386.65,87.73 L387.40,87.51 L388.16,87.29 L388.91,87.09 L389.66,86.89 L390.42,86.69 L391.17,86.51 L391.93,86.33 L392.68,86.16 L393.43,86.00 L394.19,85.84 L394.94,85.70 L395.69,85.56 L396.45,85.42 L397.20,85.30" stroke="#0000ff"/>
<path d="M66.40,333.34 L67.15,332.74 L67.91,332.14 L68.66,331.55 L69.41,330.96 L70.17,330.37 L70.92,329.79 L71.67,329.21 L72.43,328.63 L73.18,328.05 L73.94,327.48 L74.69,326.91 L75.44,326.34 L76.20,325.77 L76.95,325.21 L77.70,324.64 L78.46,324.08 L79.21,323.52 L79.96,322.96 L80.72,322.41 L81.47,321.85 L82.22,321.30 L82.98,320.75 L83.73,320.20 L84.48,319.65 L85.24,319.10 L85.99,318.55 L86.75,318.00 L87.50,317.46 L88.25,316.91 L89.01,316.37 L89.76,315.83 L90.51,315.29 L91.27,314.75 L92.02,314.21 L92.77,313.67 L93.53,313.13 L94.28,312.59 L95.03,312.06 L95.79,311.52 L96.54,310.98 L97.29,310.45 L98.05,309.91 L98.80,309.38 L99.56,308.84 L100.31,308.31 L101.06,307.78 L101.82,307.24 L102.57,306.71 L103.32,306.18 L104.08,305.65 L104.83,305.12 L105.58,304.58 L106.34,304.05 L107.09,303.52 L107.84,302.99 L108.60,302.46 L109.35,301.93 L110.10,301.40 L110.86,300.87 L111.61,300.34 L112.37,299.82 L113.12,299.29 L113.87,298.76 L114.63,298.23 L115.38,297.70 L116.13,297.17 L116.89,296.65 L117.64,296.12 L118.39,295.59 L119.15,295.06 L119.90,294.54 L120.65,294.01 L121.41,293.48 L122.16,292.95 L122.91,292.43 L123.67,291.90 L124.42,291.38 L125.18,290.85 L125.93,290.32 L126.68,289.80 L127.44,289.27 L128.19,288.75 L128.94,288.22 L129.70,287.70 L130.45,287.17 L131.20,286.65 L131.96,286.13 L132.71,285.60 L133.46,285.08 L134.22,284.55 L134.97,284.03 L135.72,283.51 L136.48,282.99 L137.23,282.46 L137.99,281.94 L138.74,281.42 L139.49,280.90 L140.25,280.38 L141.00,279.86 L141.75,279.33 L142.51,278.81 L143.26,278.29 L144.01,277.77 L144.77,277.25 L145.52,276.73 L146.27,276.22 L147.03,275.70 L147.78,275.18 L148.53,274.66 L149.29,274.14 L150.04,273.62 L150.80,273.11 L151.55,272.59 L152.30,272.07 L153.06,271.56 L153.81,271.04 L154.56,270.53 L155.32,270.01 L156.07,269.50 L156.82,268.98 L157.58,268.47 L158.33,267.95 L159.08,267.44 L159.84,266.93 L160.59,266.41 L161.34,265.90 L162.10,265.39 L162.85,264.88 L163.61,264.37 L164.36,263.85 L165.11,263.34 L165.87,262.83 L166.62,262.32 L167.37,261.81 L168.13,261.30 L168.88,260.79 L169.63,260.28 L170.39,259.78 L171.14,259.27 L171.89,258.76 L172.65,258.25 L173.40,257.74 L174.15,257.24 L174.91,256.73 L175.66,256.22 L176.42,255.71 L177.17,255.21 L177.92,254.70 L178.68,254.20 L179.43,253.69 L180.18,253.18 L180.94,252.68 L181.69,252.17 L182.44,251.67 L183.20,251.16 L183.95,250.66 L184.70,250.15 L185.46,249.65 L186.21,249.14 L186.96,248.64 L187.72,248.14 L188.47,247.63 L189.23,247.13 L189.98,246.62 L190.73,246.12 L191.49,245.61 L192.24,245.11 L192.99,244.61 L193.75,244.10 L194.50,243.60 L195.25,243.09 L196.01,242.59 L196.76,242.09 L197.51,241.58 L198.27,241.08 L199.02,240.57 L199.77,240.07 L200.53,239.56 L201.28,239.06 L202.04,238.55 L202.79,238.05 L203.54,237.54 L204.30,237.04 L205.05,236.53 L205.80,236.02 L206.56,235.52 L207.31,235.01 L208.06,234.50 L208.82,233.99 L209.57,233.49 L210.32,232.98 L211.08,232.47 L211.83,231.96 L212.58,231.45 L213.34,230.94 L214.09,230.43 L214.85,229.92 L215.60,229.41 L216.35,228.90 L217.11,228.39 L217.86,227.87 L218.61,227.36 L219.37,226.85 L220.12,226.33 L220.87,225.82 L221.63,225.30 L222.38,224.78 L223.13,224.27 L223.89,223.75 L224.64,223.23 L225.39,222.71 L226.15,222.19 L226.90,221.67 L227.66,221.15 L228.41,220.63 L229.16,220.11 L229.92,219.58 L230.67,219.06 L231.42,218.53 L232.18,218.01 L232.93,217.48 L233.68,216.95 L234.44,216.43 L235.19,215.90 L235.94,215.37 L236.70,214.84 L237.45,214.30 L238.21,213.77 L238.96,213.24 L239.71,212.70 L240.47,212.17 L241.22,211.63 L241.97,211.09 L242.73,210.56 L243.48,210.02 L244.23,209.48 L244.99,208.93 L245.74,208.39 L246.49,207.85 L247.25,207.30 L248.00,206.76 L248.75,206.21 L249.51,205.67 L250.26,205.12 L251.02,204.57 L251.77,204.02 L252.52,203.47 L253.28,202.91 L254.03,202.36 L254.78,201.80 L255.54,201.25 L256.29,200.69 L257.04,200.13 L257.80,199.58 L258.55,199.02 L259.30,198.45 L260.06,197.89 L260.81,197.33 L261.56,196.77 L262.32,196.20 L263.07,195.63 L263.83,195.07 L264.58,194.50 L265.33,193.93 L266.09,193.36 L266.84,192.79 L267.59,192.22 L268.35,191.64 L269.10,191.07 L269.85,190.50 L270.61,189.92 L271.36,189.34 L272.11,188.77 L272.87,188.19 L273.62,187.61 L274.37,187.03 L275.13,186.45 L275.88,185.86 L276.64,185.28 L277.39,184.70 L278.14,184.11 L278.90,183.53 L279.65,182.94 L280.40,182.36 L281.16,181.77 L281.91,181.18 L282.66,180.59 L283.42,180.00 L284.17,179.41 L284.92,178.82 L285.68,178.23 L286.43,177.64 L287.18,177.05 L287.94,176.45 L288.69,175.86 L289.45,175.27 L290.20,174.67 L290.95,174.08 L291.71,173.48 L292.46,172.89 L293.21,172.29 L293.97,171.70 L294.72,171.10 L295.47,170.51 L296.23,169.91 L296.98,169.31 L297.73,168.72 L298.49,168.12 L299.24,167.53 L299.99,166.93 L300.75,166.33 L301.50,165.74 L302.26,165.14 L303.01,164.55 L303.76,163.95 L304.52,163.35 L305.27,162.76 L306.02,162.17 L306.78,161.57 L307.53,160.98 L308.28,160.38 L309.04,159.79 L309.79,159.20 L310.54,158.61 L311.30,158.02 L312.05,157.43 L312.80,156.84 L313.56,156.25 L314.31,155.66 L315.07,155.08 L315.82,154.49 L316.57,153.91 L317.33,153.32 L318.08,152.74 L318.83,152.16 L319.59,151.58 L320.34,151.00 L321.09,150.42 L321.85,149.84 L322.60,149.27 L323.35,148.70 L324.11,148.12 L324.86,147.55 L325.61,146.98 L326.37,146.42 L327.12,145.85 L327.88,145.29 L328.63,144.72 L329.38,144.16 L330.14,143.61 L330.89,143.05 L331.64,142.50 L332.40,141.94 L333.15,141.39 L333.90,140.85 L334.66,140.30 L335.41,139.76 L336.16,139.22 L336.92,138.68 L337.67,138.14 L338.42,137.61 L339.18,137.08 L339.93,136.55 L340.69,136.02 L341.44,135.50 L342.19,134.98 L342.95,134.46 L343.70,133.94 L344.45,133.43 L345.21,132.92 L345.96,132.42 L346.71,131.91 L347.47,131.41 L348.22,130.91 L348.97,130.42 L349.73,129.93 L350.48,129.44 L351.23,128.96 L351.99,128.48 L352.74,128.00 L353.50,127.52 L354.25,127.05 L355.00,126.58 L355.76,126.12 L356.51,125.66 L357.26,125.20 L358.02,124.75 L358.77,124.30 L359.52,123.85 L360.28,123.41 L361.03,122.97 L361.78,122.53 L362.54,122.10 L363.29,121.67 L364.04,121.25 L364.80,120.83 L365.55,120.41 L366.31,120.00 L367.06,119.59 L367.81,119.18 L368.57,118.78 L369.32,118.38 L370.07,117.99 L370.83,117.60 L371.58,117.21 L372.33,116.83 L373.09,116.45 L373.84,116.08 L374.59,115.71 L375.35,115.34 L376.10,114.98 L376.85,114.62 L377.61,114.26 L378.36,113.91 L379.12,113.56 L379.87,113.21 L380.62,112.87 L381.38,112.53 L382.13,112.20 L382.88,111.87 L383.64,111.54 L384.39,111.22 L385.14,110.90 L385.90,110.58 L386.65,110.26 L387.40,109.95 L388.16,109.65 L388.91,109.34 L389.66,109.04 L390.42,108.74 L391.17,108.44 L391.93,108.15 L392.68,107.86 L393.43,107.57 L394.19,107.28 L394.94,107.00 L395.69,106.72 L396.45,106.44 L397.20,106.16" stroke="#0000ff"/>
<path d="M66.40,288.52 L67.15,288.14 L67.91,287.77 L68.66,287.39 L69.41,287.02 L70.17,286.64 L70.92,286.27 L71.67,285.89 L72.43,285.52 L73.18,285.14 L73.94,284.77 L74.69,284.39 L75.44,284.01 L76.20,283.63 L76.95,283.25 L77.70,282.87 L78.46,282.49 L79.21,282.11 L79.96,281.73 L80.72,281.35 L81.47,280.97 L82.22,280.59 L82.98,280.20 L83.73,279.82 L84.48,279.43 L85.24,279.05 L85.99,278.66 L86.75,278.27 L87.50,277.89 L88.25,277.50 L89.01,277.11 L89.76,276.72 L90.51,276.33 L91.27,275.94 L92.02,275.54 L92.77,275.15 L93.53,274.76 L94.28,274.36 L95.03,273.97 L95.79,273.57 L96.54,273.18 L97.29,272.78 L98.05,272.38 L98.80,271.99 L99.56,271.59 L100.31,271.19 L101.06,270.79 L101.82,270.39 L102.57,269.99 L103.32,269.59 L104.08,269.18 L104.83,268.78 L105.58,268.38 L106.34,267.97 L107.09,267.57 L107.84,267.16 L108.60,266.76 L109.35,266.35 L110.10,265.95 L110.86,265.54 L111.61,265.13 L112.37,264.73 L113.12,264.32 L113.87,263.91 L114.63,263.50 L115.38,263.09 L116.13,262.68 L116.89,262.27 L117.64,261.86 L118.39,261.45 L119.15,261.04 L119.90,260.63 L120.65,260.22 L121.41,259.81 L122.16,259.40 L122.91,258.99 L123.67,258.58 L124.42,258.16 L125.18,257.75 L125.93,257.34 L126.68,256.93 L127.44,256.51 L128.19,256.10 L128.94,255.69 L129.70,255.27 L130.45,254.86 L131.20,254.45 L131.96,254.03 L132.71,253.62 L133.46,253.21 L134.22,252.79 L134.97,252.38 L135.72,251.97 L136.48,251.55 L137.23,251.14 L137.99,250.73 L138.74,250.31 L139.49,249.90 L140.25,249.49 L141.00,249.07 L141.75,248.66 L142.51,248.25 L143.26,247.83 L144.01,247.42 L144.77,247.01 L145.52,246.60 L146.27,246.18 L147.03,245.77 L147.78,245.36 L148.53,244.94 L149.29,244.53 L150.04,244.12 L150.80,243.71 L151.55,243.29 L152.30,242.88 L153.06,242.47 L153.81,242.05 L154.56,241.64 L155.32,241.23 L156.07,240.81 L156.82,240.40 L157.58,239.99 L158.33,239.58 L159.08,239.17 L159.84,238.76 L160.59,238.35 L161.34,237.94 L162.10,237.53 L162.85,237.12 L163.61,236.71 L164.36,236.31 L165.11,235.90 L165.87,235.50 L166.62,235.10 L167.37,234.69 L168.13,234.29 L168.88,233.89 L169.63,233.49 L170.39,233.09 L171.14,232.69 L171.89,232.29 L172.65,231.89 L173.40,231.49 L174.15,231.09 L174.91,230.70 L175.66,230.30 L176.42,229.90 L177.17,229.51 L177.92,229.11 L178.68,228.71 L179.43,228.32 L180.18,227.92 L180.94,227.52 L181.69,227.13 L182.44,226.73 L183.20,226.33 L183.95,225.94 L184.70,225.54 L185.46,225.14 L186.21,224.74 L186.96,224.34 L187.72,223.94 L188.47,223.54 L189.23,223.14 L189.98,222.73 L190.73,222.33 L191.49,221.92 L192.24,221.52 L192.99,221.11 L193.75,220.70 L194.50,220.29 L195.25,219.88 L196.01,219.47 L196.76,219.06 L197.51,218.65 L198.27,218.23 L199.02,217.81 L199.77,217.40 L200.53,216.98 L201.28,216.56 L202.04,216.13 L202.79,215.71 L203.54,215.29 L204.30,214.86 L205.05,214.43 L205.80,214.00 L206.56,213.57 L207.31,213.14 L208.06,212.70 L208.82,212.27 L209.57,211.83 L210.32,211.39 L211.08,210.95 L211.83,210.51 L212.58,210.07 L213.34,209.62 L214.09,209.18 L214.85,208.73 L215.60,208.29 L216.35,207.84 L217.11,207.39 L217.86,206.94 L218.61,206.49 L219.37,206.04 L220.12,205.59 L220.87,205.14 L221.63,204.68 L222.38,204.23 L223.13,203.77 L223.89,203.32 L224.64,202.86 L225.39,202.40 L226.15,201.94 L226.90,201.48 L227.66,201.02 L228.41,200.55 L229.16,200.09 L229.92,199.62 L230.67,199.16 L231.42,198.69 L232.18,198.22 L232.93,197.75 L233.68,197.28 L234.44,196.81 L235.19,196.34 L235.94,195.87 L236.70,195.40 L237.45,194.92 L238.21,194.45 L238.96,193.97 L239.71,193.49 L240.47,193.01 L241.22,192.53 L241.97,192.05 L242.73,191.57 L243.48,191.09 L244.23,190.60 L244.99,190.12 L245.74,189.63 L246.49,189.15 L247.25,188.66 L248.00,188.17 L248.75,187.68 L249.51,187.19 L250.26,186.70 L251.02,186.21 L251.77,185.72 L252.52,185.22 L253.28,184.73 L254.03,184.23 L254.78,183.73 L255.54,183.24 L256.29,182.74 L257.04,182.24 L257.80,181.74 L258.55,181.24 L259.30,180.73 L260.06,180.23 L260.81,179.73 L261.56,179.22 L262.32,178.71 L263.07,178.21 L263.83,177.70 L264.58,177.19 L265.33,176.68 L266.09,176.17 L266.84,175.66 L267.59,175.15 L268.35,174.63 L269.10,174.12 L269.85,173.60 L270.61,173.09 L271.36,172.57 L272.11,172.05 L272.87,171.53 L273.62,171.01 L274.37,170.50 L275.13,169.97 L275.88,169.45 L276.64,168.93 L277.39,168.41 L278.14,167.88 L278.90,167.36 L279.65,166.83 L280.40,166.31 L281.16,165.78 L281.91,165.26 L282.66,164.73 L283.42,164.20 L284.17,163.67 L284.92,163.14 L285.68,162.61 L286.43,162.08 L287.18,161.55 L287.94,161.02 L288.69,160.49 L289.45,159.96 L290.20,159.43 L290.95,158.90 L291.71,158.37 L292.46,157.83 L293.21,157.30 L293.97,156.77 L294.72,156.24 L295.47,155.71 L296.23,155.18 L296.98,154.65 L297.73,154.12 L298.49,153.59 L299.24,153.06 L299.99,152.53 L300.75,152.00 L301.50,151.48 L302.26,150.95 L303.01,150.43 L303.76,149.91 L304.52,149.39 L305.27,148.87 L306.02,148.35 L306.78,147.84 L307.53,147.32 L308.28,146.81 L309.04,146.30 L309.79,145.80 L310.54,145.30 L311.30,144.80 L312.05,144.30 L312.80,143.81 L313.56,143.32 L314.31,142.84 L315.07,142.36 L315.82,141.89 L316.57,141.42 L317.33,140.95 L318.08,140.49 L318.83,140.04 L319.59,139.59 L320.34,139.15 L321.09,138.72 L321.85,138.29 L322.60,137.87 L323.35,137.46 L324.11,137.06 L324.86,136.66 L325.61,136.27 L326.37,135.89 L327.12,135.52 L327.88,135.16 L328.63,134.81 L329.38,134.47 L330.14,134.13 L330.89,133.81 L331.64,133.50 L332.40,133.19 L333.15,132.90 L333.90,132.61 L334.66,132.34 L335.41,132.08 L336.16,131.82 L336.92,131.58 L337.67,131.34 L338.42,131.12 L339.18,130.90 L339.93,130.69 L340.69,130.50 L341.44,130.31 L342.19,130.13 L342.95,129.96 L343.70,129.80 L344.45,129.64 L345.21,129.49 L345.96,129.36 L346.71,129.22 L347.47,129.10 L348.22,128.98 L348.97,128.87 L349.73,128.77 L350.48,128.67 L351.23,128.57 L351.99,128.49 L352.74,128.40 L353.50,128.32 L354.25,128.25 L355.00,128.18 L355.76,128.12 L356.51,128.06 L357.26,128.00 L358.02,127.95 L358.77,127.90 L359.52,127.85 L360.28,127.81 L361.03,127.77 L361.78,127.73 L362.54,127.69 L363.29,127.66 L364.04,127.63 L364.80,127.60 L365.55,127.57 L366.31,127.55 L367.06,127.53 L367.81,127.50 L368.57,127.48 L369.32,127.47 L370.07,127.45 L370.83,127.43 L371.58,127.42 L372.33,127.40 L373.09,127.39 L373.84,127.38 L374.59,127.36 L375.35,127.35 L376.10,127.34 L376.85,127.33 L377.61,127.33 L378.36,127.32 L379.12,127.31 L379.87,127.30 L380.62,127.30 L381.38,127.29 L382.13,127.29 L382.88,127.28 L383.64,127.28 L384.39,127.27 L385.14,127.27 L385.90,127.26 L386.65,127.26 L387.40,127.26 L388.16,127.25 L388.91,127.25 L389.66,127.25 L390.42,127.25 L391.17,127.24 L391.93,127.24 L392.68,127.24 L393.43,127.24 L394.19,127.24 L394.94,127.24 L395.69,127.23 L396.45,127.23 L397.20,127.23" stroke="#00ff00" stroke-dasharray="6.9 1.85 1.3 1.85" stroke-dashoffset="8.2"/>
<path d="M66.40,333.34 L67.15,332.74 L67.91,332.14 L68.66,331.55 L69.41,330.96 L70.17,330.37 L70.92,329.79 L71.67,329.21 L72.43,328.63 L73.18,328.05 L73.94,327.48 L74.69,326.91 L75.44,326.34 L76.20,325.77 L76.95,325.21 L77.70,324.64 L78.46,324.08 L79.21,323.52 L79.96,322.96 L80.72,322.41 L81.47,321.85 L82.22,321.30 L82.98,320.75 L83.73,320.20 L84.48,319.65 L85.24,319.10 L85.99,318.55 L86.75,318.00 L87.50,317.46 L88.25,316.91 L89.01,316.37 L89.76,315.83 L90.51,315.29 L91.27,314.75 L92.02,314.21 L92.77,313.67 L93.53,313.13 L94.28,312.59 L95.03,312.06 L95.79,311.52 L96.54,310.98 L97.29,310.45 L98.05,309.91 L98.80,309.38 L99.56,308.84 L100.31,308.31 L101.06,307.78 L101.82,307.24 L102.57,306.71 L103.32,306.18 L104.08,305.65 L104.83,305.12 L105.58,304.58 L106.34,304.05 L107.09,303.52 L107.84,302.99 L108.60,302.46 L109.35,301.93 L110.10,301.40 L110.86,300.87 L111.61,300.34 L112.37,299.82 L113.12,299.29 L113.87,298.76 L114.63,298.23 L115.38,297.70 L116.13,297.17 L116.89,296.65 L117.64,296.12 L118.39,295.59 L119.15,295.06 L119.90,294.54 L120.65,294.01 L121.41,293.48 L122.16,292.95 L122.91,292.43 L123.67,291.90 L124.42,291.38 L125.18,290.85 L125.93,290.32 L126.68,289.80 L127.44,289.27 L128.19,288.75 L128.94,288.22 L129.70,287.70 L130.45,287.17 L131.20,286.65 L131.96,286.13 L132.71,285.60 L133.46,285.08 L134.22,284.55 L134.97,284.03 L135.72,283.51 L136.48,282.99 L137.23,282.46 L137.99,281.94 L138.74,281.42 L139.49,280.90 L140.25,280.38 L141.00,279.86 L141.75,279.33 L142.51,278.81 L143.26,278.29 L144.01,277.77 L144.77,277.25 L145.52,276.73 L146.27,276.22 L147.03,275.70 L147.78,275.18 L148.53,274.66 L149.29,274.14 L150.04,273.62 L150.80,273.11 L151.55,272.59 L152.30,272.07 L153.06,271.56 L153.81,271.04 L154.56,270.52 L155.32,270.01 L156.07,269.49 L156.82,268.98 L157.58,268.47 L158.33,267.95 L159.08,267.44 L159.84,266.93 L160.59,266.42 L161.34,265.91 L162.10,265.40 L162.85,264.89 L163.61,264.39 L164.36,263.88 L165.11,263.38 L165.87,262.87 L166.62,262.37 L167.37,261.86 L168.13,261.36 L168.88,260.86 L169.63,260.36 L170.39,259.86 L171.14,259.36 L171.89,258.86 L172.65,258.36 L173.40,257.87 L174.15,257.37 L174.91,256.87 L175.66,256.38 L176.42,255.88 L177.17,255.39 L177.92,254.89 L178.68,254.40 L179.43,253.90 L180.18,253.41 L180.94,252.91 L181.69,252.42 L182.44,251.92 L183.20,251.43 L183.95,250.93 L184.70,250.44 L185.46,249.94 L186.21,249.45 L186.96,248.95 L187.72,248.46 L188.47,247.96 L189.23,247.46 L189.98,246.97 L190.73,246.47 L191.49,245.97 L192.24,245.47 L192.99,244.97 L193.75,244.47 L194.50,243.97 L195.25,243.47 L196.01,242.97 L196.76,242.46 L197.51,241.96 L198.27,241.46 L199.02,240.95 L199.77,240.44 L200.53,239.94 L201.28,239.43 L202.04,238.92 L202.79,238.41 L203.54,237.90 L204.30,237.39 L205.05,236.88 L205.80,236.36 L206.56,235.85 L207.31,235.34 L208.06,234.82 L208.82,234.31 L209.57,233.79 L210.32,233.27 L211.08,232.75 L211.83,232.24 L212.58,231.72 L213.34,231.20 L214.09,230.68 L214.85,230.16 L215.60,229.64 L216.35,229.12 L217.11,228.60 L217.86,228.07 L218.61,227.55 L219.37,227.03 L220.12,226.51 L220.87,225.98 L221.63,225.46 L222.38,224.93 L223.13,224.41 L223.89,223.88 L224.64,223.36 L225.39,222.83 L226.15,222.31 L226.90,221.78 L227.66,221.25 L228.41,220.72 L229.16,220.20 L229.92,219.67 L230.67,219.14 L231.42,218.61 L232.18,218.08 L232.93,217.55 L233.68,217.02 L234.44,216.49 L235.19,215.95 L235.94,215.42 L236.70,214.89 L237.45,214.36 L238.21,213.82 L238.96,213.29 L239.71,212.75 L240.47,212.22 L241.22,211.68 L241.97,211.15 L242.73,210.61 L243.48,210.08 L244.23,209.54 L244.99,209.00 L245.74,208.46 L246.49,207.93 L247.25,207.39 L248.00,206.85 L248.75,206.31 L249.51,205.77 L250.26,205.23 L251.02,204.69 L251.77,204.15 L252.52,203.61 L253.28,203.06 L254.03,202.52 L254.78,201.98 L255.54,201.44 L256.29,200.89 L257.04,200.35 L257.80,199.80 L258.55,199.26 L259.30,198.71 L260.06,198.17 L260.81,197.62 L261.56,197.08 L262.32,196.53 L263.07,195.98 L263.83,195.43 L264.58,194.89 L265.33,194.34 L266.09,193.79 L266.84,193.24 L267.59,192.69 L268.35,192.14 L269.10,191.59 L269.85,191.04 L270.61,190.49 L271.36,189.94 L272.11,189.39 L272.87,188.84 L273.62,188.28 L274.37,187.73 L275.13,187.18 L275.88,186.63 L276.64,186.07 L277.39,185.52 L278.14,184.97 L278.90,184.41 L279.65,183.86 L280.40,183.30 L281.16,182.75 L281.91,182.19 L282.66,181.64 L283.42,181.09 L284.17,180.53 L284.92,179.98 L285.68,179.42 L286.43,178.87 L287.18,178.31 L287.94,177.76 L288.69,177.20 L289.45,176.65 L290.20,176.09 L290.95,175.54 L291.71,174.99 L292.46,174.43 L293.21,173.88 L293.97,173.33 L294.72,172.78 L295.47,172.22 L296.23,171.67 L296.98,171.12 L297.73,170.58 L298.49,170.03 L299.24,169.48 L299.99,168.94 L300.75,168.39 L301.50,167.85 L302.26,167.31 L303.01,166.77 L303.76,166.23 L304.52,165.70 L305.27,165.16 L306.02,164.63 L306.78,164.11 L307.53,163.58 L308.28,163.06 L309.04,162.54 L309.79,162.02 L310.54,161.51 L311.30,161.00 L312.05,160.50 L312.80,160.00 L313.56,159.51 L314.31,159.02 L315.07,158.53 L315.82,158.06 L316.57,157.58 L317.33,157.12 L318.08,156.66 L318.83,156.21 L319.59,155.76 L320.34,155.33 L321.09,154.90 L321.85,154.48 L322.60,154.06 L323.35,153.66 L324.11,153.27 L324.86,152.88 L325.61,152.51 L326.37,152.14 L327.12,151.79 L327.88,151.44 L328.63,151.11 L329.38,150.79 L330.14,150.48 L330.89,150.18 L331.64,149.89 L332.40,149.61 L333.15,149.34 L333.90,149.08 L334.66,148.84 L335.41,148.60 L336.16,148.38 L336.92,148.16 L337.67,147.96 L338.42,147.76 L339.18,147.58 L339.93,147.40 L340.69,147.24 L341.44,147.08 L342.19,146.93 L342.95,146.79 L343.70,146.66 L344.45,146.54 L345.21,146.42 L345.96,146.31 L346.71,146.21 L347.47,146.11 L348.22,146.02 L348.97,145.93 L349.73,145.85 L350.48,145.78 L351.23,145.71 L351.99,145.64 L352.74,145.58 L353.50,145.53 L354.25,145.47 L355.00,145.43 L355.76,145.38 L356.51,145.34 L357.26,145.30 L358.02,145.26 L358.77,145.23 L359.52,145.19 L360.28,145.16 L361.03,145.14 L361.78,145.11 L362.54,145.09 L363.29,145.07 L364.04,145.05 L364.80,145.03 L365.55,145.01 L366.31,144.99 L367.06,144.98 L367.81,144.96 L368.57,144.95 L369.32,144.94 L370.07,144.93 L370.83,144.92 L371.58,144.91 L372.33,144.90 L373.09,144.89 L373.84,144.88 L374.59,144.88 L375.35,144.87 L376.10,144.86 L376.85,144.86 L377.61,144.85 L378.36,144.85 L379.12,144.85 L379.87,144.84 L380.62,144.84 L381.38,144.83 L382.13,144.83 L382.88,144.83 L383.64,144.83 L384.39,144.82 L385.14,144.82 L385.90,144.82 L386.65,144.82 L387.40,144.81 L388.16,144.81 L388.91,144.81 L389.66,144.81 L390.42,144.81 L391.17,144.81 L391.93,144.81 L392.68,144.81 L393.43,144.80 L394.19,144.80 L394.94,144.80 L395.69,144.80 L396.45,144.80 L397.20,144.80" stroke="#00ff00" stroke-dasharray="6.9 1.85 1.3 1.85" stroke-dashoffset="8.2"/>
</g>
<text transform="translate(46.77,70.85) scale(1.175,1.000)" font-family="Liberation Sans, sans-serif" font-size="15.9" fill="#0000ff">7</text>
<text transform="translate(30.89,145.60) scale(1.150,1.000)" font-family="Liberation Sans, sans-serif" font-size="15.9" fill="#0000ff">6</text><text transform="translate(41.39,145.60) scale(1.192,1.000)" font-family="Liberation Sans, sans-serif" font-size="15.9" fill="#0000ff">.</text><text transform="translate(46.98,145.60) scale(1.125,1.000)" font-family="Liberation Sans, sans-serif" font-size="15.9" fill="#0000ff">5</text>
<text transform="translate(46.79,220.35) scale(1.150,1.000)" font-family="Liberation Sans, sans-serif" font-size="15.9" fill="#0000ff">6</text>
<text transform="translate(31.08,295.10) scale(1.125,1.000)" font-family="Liberation Sans, sans-serif" font-size="15.9" fill="#0000ff">5</text><text transform="translate(41.39,295.10) scale(1.192,1.000)" font-family="Liberation Sans, sans-serif" font-size="15.9" fill="#0000ff">.</text><text transform="translate(46.98,295.10) scale(1.125,1.000)" font-family="Liberation Sans, sans-serif" font-size="15.9" fill="#0000ff">5</text>
<text transform="translate(406.18,34.60) scale(1.125,1.000)" font-family="Liberation Sans, sans-serif" font-size="15.9" fill="#ff0000">3</text><text transform="translate(416.79,34.60) scale(1.137,1.000)" font-family="Liberation Sans, sans-serif" font-size="15.9" fill="#ff0000">8</text>
<text transform="translate(406.18,109.46) scale(1.125,1.000)" font-family="Liberation Sans, sans-serif" font-size="15.9" fill="#ff0000">3</text><text transform="translate(416.69,109.46) scale(1.150,1.000)" font-family="Liberation Sans, sans-serif" font-size="15.9" fill="#ff0000">6</text>
<text transform="translate(406.18,184.32) scale(1.125,1.000)" font-family="Liberation Sans, sans-serif" font-size="15.9" fill="#ff0000">3</text><text transform="translate(417.26,184.32) scale(1.059,1.000)" font-family="Liberation Sans, sans-serif" font-size="15.9" fill="#ff0000">4</text>
<text transform="translate(406.18,259.18) scale(1.125,1.000)" font-family="Liberation Sans, sans-serif" font-size="15.9" fill="#ff0000">3</text><text transform="translate(416.67,259.18) scale(1.175,1.000)" font-family="Liberation Sans, sans-serif" font-size="15.9" fill="#ff0000">2</text>
<text transform="translate(406.18,334.04) scale(1.125,1.000)" font-family="Liberation Sans, sans-serif" font-size="15.9" fill="#ff0000">3</text><text transform="translate(416.89,334.04) scale(1.114,1.000)" font-family="Liberation Sans, sans-serif" font-size="15.9" fill="#ff0000">0</text>
<text transform="translate(105.72,355.40) scale(1.175,1.000)" font-family="Liberation Sans, sans-serif" font-size="15.9" fill="#0a0a0a">7</text>
<text transform="translate(215.84,355.40) scale(1.137,1.000)" font-family="Liberation Sans, sans-serif" font-size="15.9" fill="#0a0a0a">8</text>
<text transform="translate(325.83,355.40) scale(1.150,1.000)" font-family="Liberation Sans, sans-serif" font-size="15.9" fill="#0a0a0a">9</text>
<g fill="#0c0c0c" stroke="#0c0c0c">
<text transform="translate(193.82,378.10) scale(0.828,1.000)" font-family="Liberation Serif, serif" font-size="17.1" stroke-width="0.2">l</text><text transform="translate(198.34,378.10) scale(1.250,1.000)" font-family="Liberation Serif, serif" font-size="17.1" stroke-width="0.2">g</text><text transform="translate(216.04,378.10) scale(1.042,1.050)" font-family="Liberation Serif, serif" font-size="17.1" font-style="italic" stroke-width="0.2">T</text><text transform="translate(228.20,383.00) scale(1.139,1.000)" font-family="Liberation Serif, serif" font-size="12.6" stroke-width="0.2">b</text><text transform="translate(244.34,378.10) scale(1.124,1.150)" font-family="Liberation Serif, serif" font-size="17.1" stroke-width="0.2">(</text><text transform="translate(251.21,378.10) scale(0.955,1.050)" font-family="Liberation Serif, serif" font-size="17.1" stroke-width="0.2">K</text><text transform="translate(263.23,378.10) scale(1.102,1.150)" font-family="Liberation Serif, serif" font-size="17.1" stroke-width="0.2">)</text>
</g>
<g transform="translate(16.8,206.7) rotate(-90)" fill="#0000ff" stroke="#0000ff">
<text transform="translate(-0.28,0.00) scale(0.828,1.000)" font-family="Liberation Serif, serif" font-size="17.1" stroke-width="0.1">l</text><text transform="translate(4.52,0.00) scale(1.143,1.000)" font-family="Liberation Serif, serif" font-size="17.1" stroke-width="0.1">g</text><text transform="translate(21.80,0.00) scale(0.989,1.050)" font-family="Liberation Serif, serif" font-size="17.1" font-style="italic" stroke-width="0.1">T</text><text transform="translate(33.13,5.20) scale(1.194,1.000)" font-family="Liberation Serif, serif" font-size="13" font-weight="bold" stroke-width="0.1">s</text><text transform="translate(49.49,0.00) scale(0.917,1.150)" font-family="Liberation Serif, serif" font-size="17.1" stroke-width="0.1">(</text><text transform="translate(55.30,0.00) scale(0.972,1.050)" font-family="Liberation Serif, serif" font-size="17.1" stroke-width="0.1">K</text><text transform="translate(67.57,0.00) scale(1.035,1.150)" font-family="Liberation Serif, serif" font-size="17.1" stroke-width="0.1">)</text>
</g>
<g transform="translate(446.6,234) rotate(-90)" fill="#ff0000" stroke="#ff0000">
<text transform="translate(0.24,0.00) scale(0.755,1.000)" font-family="Liberation Serif, serif" font-size="17.1" stroke-width="0.1">l</text><text transform="translate(4.40,0.00) scale(1.170,1.000)" font-family="Liberation Serif, serif" font-size="17.1" stroke-width="0.1">g</text><text transform="translate(22.27,0.00) scale(1.023,1.050)" font-family="Liberation Serif, serif" font-size="17.1" font-style="italic" stroke-width="0.1">L</text><text transform="translate(32.75,5.10) scale(1.111,1.000)" font-family="Liberation Serif, serif" font-size="12.6" font-weight="bold" stroke-width="0.1">r</text><text transform="translate(39.77,5.10) scale(1.053,1.000)" font-family="Liberation Serif, serif" font-size="12.6" font-weight="bold" stroke-width="0.1">b</text><text transform="translate(56.25,0.00) scale(1.101,1.150)" font-family="Liberation Serif, serif" font-size="17.1" stroke-width="0.1">(</text><text transform="translate(63.25,0.00) scale(1.249,1.120)" font-family="Liberation Serif, serif" font-size="17.1" stroke-width="0.1">e</text><text transform="translate(73.02,0.00) scale(1.112,1.120)" font-family="Liberation Serif, serif" font-size="17.1" stroke-width="0.1">r</text><text transform="translate(80.89,0.00) scale(1.183,1.000)" font-family="Liberation Serif, serif" font-size="17.1" stroke-width="0.1">g</text><text transform="translate(93.64,3.40) scale(1.600,1.360)" font-family="Liberation Serif, serif" font-size="17.1" stroke-width="0.1">/</text><text transform="translate(103.32,0.00) scale(1.281,1.120)" font-family="Liberation Serif, serif" font-size="17.1" stroke-width="0.1">s</text><text transform="translate(112.83,0.00) scale(1.102,1.150)" font-family="Liberation Serif, serif" font-size="17.1" stroke-width="0.1">)</text>
</g>
<g fill="#0c0c0c" stroke="#0c0c0c">
<text transform="translate(304.67,249.40) scale(0.852,1.000)" font-family="Liberation Serif, serif" font-size="13.2" stroke-width="0.2">l</text><text transform="translate(307.40,249.40) scale(1.341,1.000)" font-family="Liberation Serif, serif" font-size="13.2" stroke-width="0.2">g</text><text transform="translate(316.13,249.40) scale(1.129,1.150)" font-family="Liberation Serif, serif" font-size="13.2" stroke-width="0.2">(</text><text transform="translate(321.48,249.40) scale(1.148,1.000)" font-family="Liberation Serif, serif" font-size="13.2" font-style="italic" stroke-width="0.2">ρ</text><text transform="translate(329.70,254.40) scale(0.923,1.000)" font-family="Liberation Serif, serif" font-size="10.3" font-weight="bold" stroke-width="0.2">b</text><text transform="translate(335.16,249.40) scale(1.107,1.150)" font-family="Liberation Serif, serif" font-size="13.2" stroke-width="0.2">)</text><text transform="translate(341.10,249.40) scale(1.369,1.000)" font-family="Liberation Serif, serif" font-size="13.2" stroke-width="0.2">=</text><text transform="translate(352.65,249.40) scale(1.024,1.000)" font-family="Liberation Serif, serif" font-size="13.2" stroke-width="0.2">1</text><text transform="translate(359.36,249.40) scale(1.209,1.000)" font-family="Liberation Serif, serif" font-size="13.2" stroke-width="0.2">0</text><text transform="translate(367.88,249.40) scale(1.073,1.000)" font-family="Liberation Serif, serif" font-size="13.2" stroke-width="0.2">.</text><text transform="translate(371.65,249.40) scale(1.227,1.000)" font-family="Liberation Serif, serif" font-size="13.2" stroke-width="0.2">0</text>
<text transform="translate(304.67,274.80) scale(0.852,1.000)" font-family="Liberation Serif, serif" font-size="13.2" stroke-width="0.2">l</text><text transform="translate(307.40,274.80) scale(1.341,1.000)" font-family="Liberation Serif, serif" font-size="13.2" stroke-width="0.2">g</text><text transform="translate(316.13,274.80) scale(1.129,1.150)" font-family="Liberation Serif, serif" font-size="13.2" stroke-width="0.2">(</text><text transform="translate(321.48,274.80) scale(1.148,1.000)" font-family="Liberation Serif, serif" font-size="13.2" font-style="italic" stroke-width="0.2">ρ</text><text transform="translate(329.70,279.80) scale(0.923,1.000)" font-family="Liberation Serif, serif" font-size="10.3" font-weight="bold" stroke-width="0.2">b</text><text transform="translate(335.16,274.80) scale(1.107,1.150)" font-family="Liberation Serif, serif" font-size="13.2" stroke-width="0.2">)</text><text transform="translate(341.10,274.80) scale(1.369,1.000)" font-family="Liberation Serif, serif" font-size="13.2" stroke-width="0.2">=</text><text transform="translate(352.65,274.80) scale(1.024,1.000)" font-family="Liberation Serif, serif" font-size="13.2" stroke-width="0.2">1</text><text transform="translate(359.85,274.80) scale(1.024,1.000)" font-family="Liberation Serif, serif" font-size="13.2" stroke-width="0.2">1</text><text transform="translate(367.88,274.80) scale(1.073,1.000)" font-family="Liberation Serif, serif" font-size="13.2" stroke-width="0.2">.</text><text transform="translate(371.67,274.80) scale(1.198,1.000)" font-family="Liberation Serif, serif" font-size="13.2" stroke-width="0.2">6</text>
<text transform="translate(247.79,300.60) scale(1.000,1.050)" font-family="Liberation Serif, serif" font-size="14" font-style="italic" stroke-width="0.2">T</text><text transform="translate(256.37,304.60) scale(1.327,1.000)" font-family="Liberation Serif, serif" font-size="10.8" font-weight="bold" stroke-width="0.2">s</text>
<text transform="translate(358.13,300.60) scale(0.962,1.050)" font-family="Liberation Serif, serif" font-size="14" font-style="italic" stroke-width="0.2">L</text><text transform="translate(366.28,304.60) scale(0.858,1.000)" font-family="Liberation Serif, serif" font-size="10.2" font-weight="bold" stroke-width="0.2">r</text><text transform="translate(371.08,304.60) scale(1.145,1.000)" font-family="Liberation Serif, serif" font-size="10.2" font-weight="bold" stroke-width="0.2">b</text>
</g>
<g transform="translate(155.5,229.6) rotate(-25)" fill="#0c0c0c" stroke="#0c0c0c"><text transform="translate(-0.23,0.00) scale(0.858,1.000)" font-family="Liberation Serif, serif" font-size="13.6" stroke-width="0.2">l</text><text transform="translate(2.81,0.00) scale(1.285,1.000)" font-family="Liberation Serif, serif" font-size="13.6" stroke-width="0.2">g</text><text transform="translate(17.14,0.00) scale(1.141,1.050)" font-family="Liberation Serif, serif" font-size="13.6" font-style="italic" stroke-width="0.2">B</text><text transform="translate(33.49,0.00) scale(1.186,1.000)" font-family="Liberation Serif, serif" font-size="13.6" stroke-width="0.2">=</text><text transform="translate(44.62,0.00) scale(0.932,1.000)" font-family="Liberation Serif, serif" font-size="13.6" stroke-width="0.2">1</text><text transform="translate(51.01,0.00) scale(1.213,1.000)" font-family="Liberation Serif, serif" font-size="13.6" stroke-width="0.2">5</text></g>
<g transform="translate(155.8,290.2) rotate(-33.5)" fill="#0c0c0c" stroke="#0c0c0c"><text transform="translate(-0.23,0.00) scale(0.858,1.000)" font-family="Liberation Serif, serif" font-size="13.6" stroke-width="0.2">l</text><text transform="translate(2.81,0.00) scale(1.285,1.000)" font-family="Liberation Serif, serif" font-size="13.6" stroke-width="0.2">g</text><text transform="translate(16.34,0.00) scale(1.141,1.050)" font-family="Liberation Serif, serif" font-size="13.6" font-style="italic" stroke-width="0.2">B</text><text transform="translate(33.66,0.00) scale(1.233,1.000)" font-family="Liberation Serif, serif" font-size="13.6" stroke-width="0.2">=</text><text transform="translate(43.92,0.00) scale(0.932,1.000)" font-family="Liberation Serif, serif" font-size="13.6" stroke-width="0.2">1</text><text transform="translate(50.76,0.00) scale(1.213,1.000)" font-family="Liberation Serif, serif" font-size="13.6" stroke-width="0.2">2</text></g>
</svg>
</body></html>
